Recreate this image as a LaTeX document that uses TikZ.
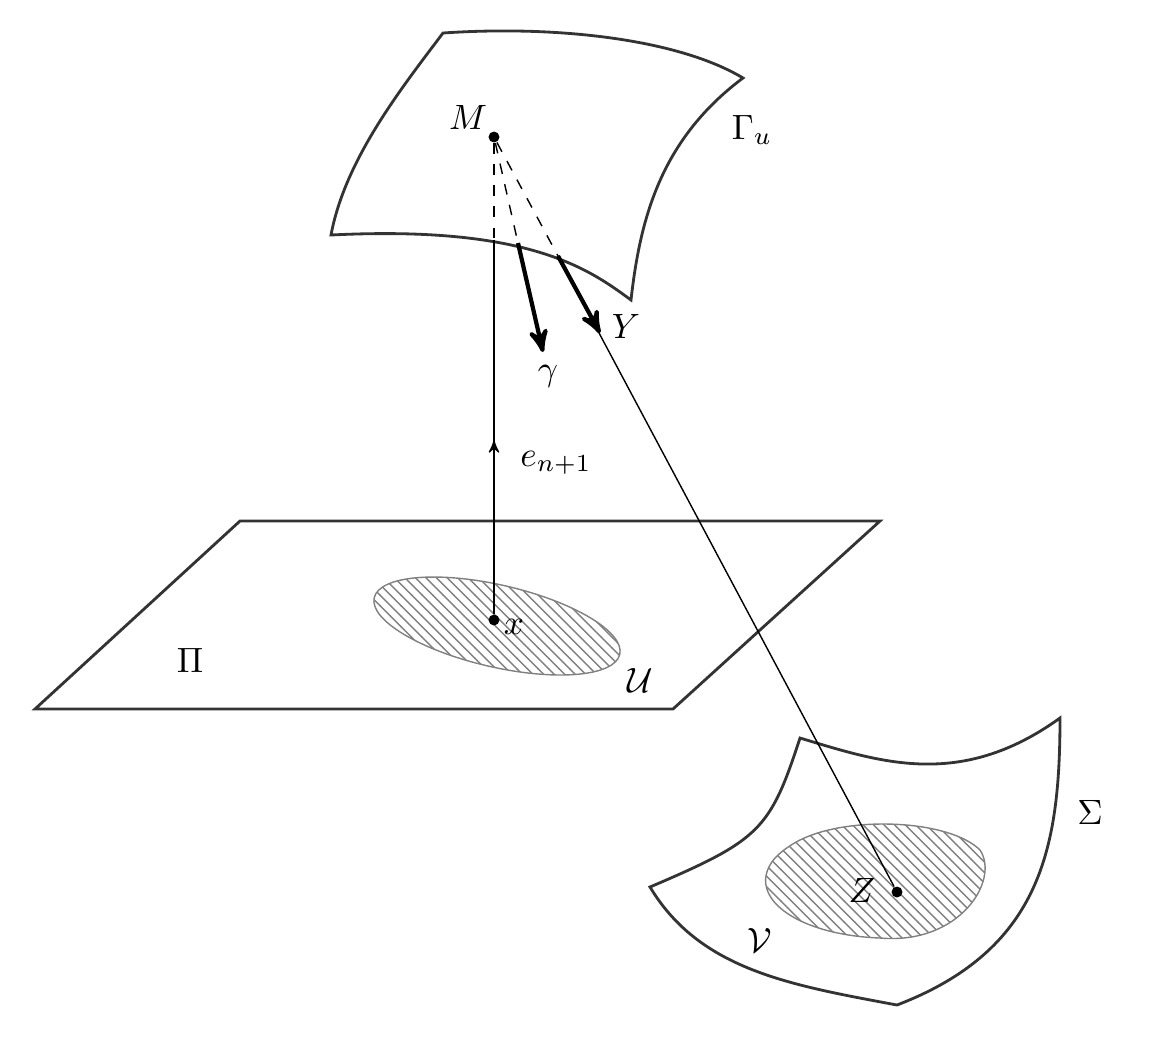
\documentclass[tikz,border=0pt]{standalone}
\usepackage{amsmath}
\usepackage{amssymb}
\usetikzlibrary{arrows,shapes,patterns}

\begin{document}
\begin{tikzpicture}[
    x=0.01cm, y=-0.01cm,
    surf/.style={thick, black!80},
    vec/.style={line width=1.2pt, ->, >=stealth'},
    hatch/.style={%
        draw=gray, pattern=north west lines, pattern color=gray
        },
    pt/.style={circle, fill, inner sep=1.1pt}
    ]
    \useasboundingbox (0,0) rectangle (1154,1038);
    % surface Gamma_u
    \draw[surf] (443,33) .. controls (560,25) and (680,40) .. (743,78)
        .. controls (660,140) and (640,220) .. (631,300)
        .. controls (590,270) and (530,225) .. (331,235)
        .. controls (345,160) and (400,90) .. (443,33) -- cycle;
    \node at (752,130) {$\Gamma_u$};
    % plane Pi
    \draw[surf] (240,521) -- (880,521) -- (673,709) -- (35,709) -- cycle;
    \node at (190,660) {$\Pi$};
    \draw[hatch] (497,626) ellipse [x radius=126, y radius=41, rotate=-13];
    \node at (640,680) {$\mathcal{U}$};
    % surface Sigma
    \draw[surf] (800,738) .. controls (880,762) and (960,790) .. (1060,718)
        .. controls (1060,850) and (1040,950) .. (897,1005)
        .. controls (790,985) and (700,970) .. (650,887)
        .. controls (760,840) and (770,830) .. (800,738) -- cycle;
    \draw[hatch] (800,840) .. controls (850,815) and (950,820) .. (980,850)
        .. controls (1000,880) and (960,945) .. (880,938)
        .. controls (800,935) and (750,900) .. (770,865)
        .. controls (775,855) and (790,845) .. (800,840) -- cycle;
    \node at (1090,812) {$\Sigma$};
    \node at (760,940) {$\mathcal{V}$};
    % points
    \node[pt] (M) at (494,137) {};
    \node at (468,117) {$M$};
    \node[pt] (x) at (494,620) {};
    \node at (514,627) {$x$};
    \node[pt] (Z) at (897,892) {};
    \node at (862,890) {$Z$};
    \coordinate (A) at (494,240);
    \coordinate (B) at (518,243);
    \coordinate (C) at (558,256);
    \draw[dashed, thin] (M) -- (A);
    \draw[dashed, thin] (M) -- (B);
    \draw[dashed, thin] (M) -- (C);
    % vectors
    \draw[thin] (A) -- (x);
    \draw[thin, ->, >=stealth'] (494,480) -- (494,440);
    \node at (556,463) {$e_{n+1}$};
    \draw[vec] (B) -- (543,352);
    \node at (548,376) {$\gamma$};
    \draw[thin] (C) -- (Z);
    \draw[vec] (C) -- (600,333);
    \node at (626,326) {$Y$};
\end{tikzpicture}
\end{document}
